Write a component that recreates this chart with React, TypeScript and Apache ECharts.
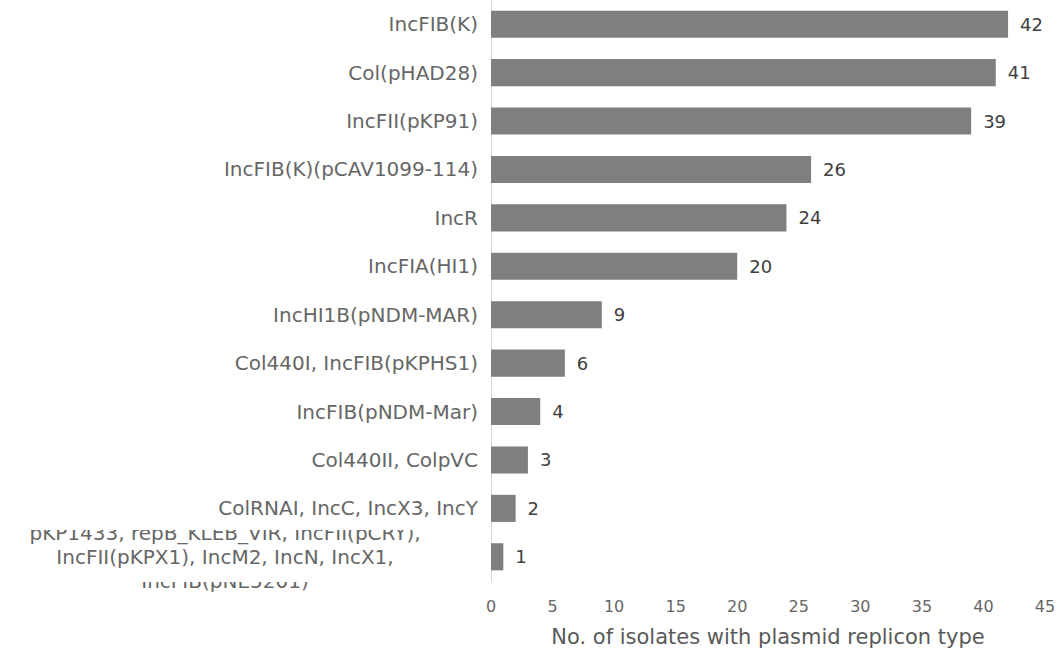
import React, { useEffect, useRef } from "react";
import * as echarts from "echarts";

const categories = [
  "IncFIB(K)",
  "Col(pHAD28)",
  "IncFII(pKP91)",
  "IncFIB(K)(pCAV1099-114)",
  "IncR",
  "IncFIA(HI1)",
  "IncHI1B(pNDM-MAR)",
  "Col440I, IncFIB(pKPHS1)",
  "IncFIB(pNDM-Mar)",
  "Col440II, ColpVC",
  "ColRNAI, IncC, IncX3, IncY",
  "pKP1433, repB_KLEB_VIR, IncFII(pCRY),\nIncFII(pKPX1), IncM2, IncN, IncX1,\nIncFIB(pNE5201)",
];
const values = [42, 41, 39, 26, 24, 20, 9, 6, 4, 3, 2, 1];
const xTicks = [0, 5, 10, 15, 20, 25, 30, 35, 40, 45];
const axisName = "No. of isolates with plasmid replicon type";

export default function App() {
  const ref = useRef<HTMLDivElement>(null);
  useEffect(() => {
    if (!ref.current) return;
    const chart = echarts.init(ref.current, undefined, { renderer: "svg" });
    const font = "DejaVu Sans, Liberation Sans, sans-serif";
    const lastIdx = categories.length - 1;
    chart.setOption({
      animation: false,
      backgroundColor: "#ffffff",
      grid: { left: 491, right: 18, top: 0, bottom: 77, containLabel: false, outerBoundsMode: "none" },
      xAxis: {
        type: "value",
        min: xTicks[0],
        max: xTicks[xTicks.length - 1],
        interval: 5,
        axisLine: { show: false },
        axisTick: { show: false },
        splitLine: { show: false },
        axisLabel: { color: "#666666", fontSize: 16, fontFamily: font, margin: 17 },
        name: axisName,
        nameLocation: "middle",
        nameGap: 45,
        nameTextStyle: { color: "#595959", fontSize: 21, fontFamily: font },
      },
      yAxis: {
        type: "category",
        inverse: true,
        data: categories,
        axisLine: { show: true, lineStyle: { color: "#d9d9d9", width: 1 } },
        axisTick: { show: false },
        axisLabel: {
          color: "#666666",
          fontSize: 20,
          fontFamily: font,
          margin: 13,
          interval: 0,
          formatter: (v: string, i: number) =>
            i === lastIdx ? v.split("\n").map((l) => "{c|" + l + "}").join("\n") : v,
          rich: {
            c: { width: 506, align: "center", fontSize: 20, lineHeight: 24, color: "#666666", fontFamily: font },
          },
        },
      },
      series: [
        {
          type: "bar",
          data: values,
          barCategoryGap: "44%",
          itemStyle: { color: "#7f7f7f" },
          label: {
            show: true,
            position: "right",
            distance: 12,
            color: "#404040",
            fontSize: 18,
            fontFamily: font,
          },
        },
      ],
      graphic: [
        { type: "rect", shape: { x: 0, y: 521, width: 486, height: 9 }, style: { fill: "#ffffff" }, z: 100 },
        { type: "rect", shape: { x: 0, y: 572, width: 486, height: 10 }, style: { fill: "#ffffff" }, z: 100 },
      ],
    });
    return () => chart.dispose();
  }, []);
  return <div ref={ref} style={{ width: 1063, height: 658, position: "absolute", left: 0, top: 0 }} />;
}
